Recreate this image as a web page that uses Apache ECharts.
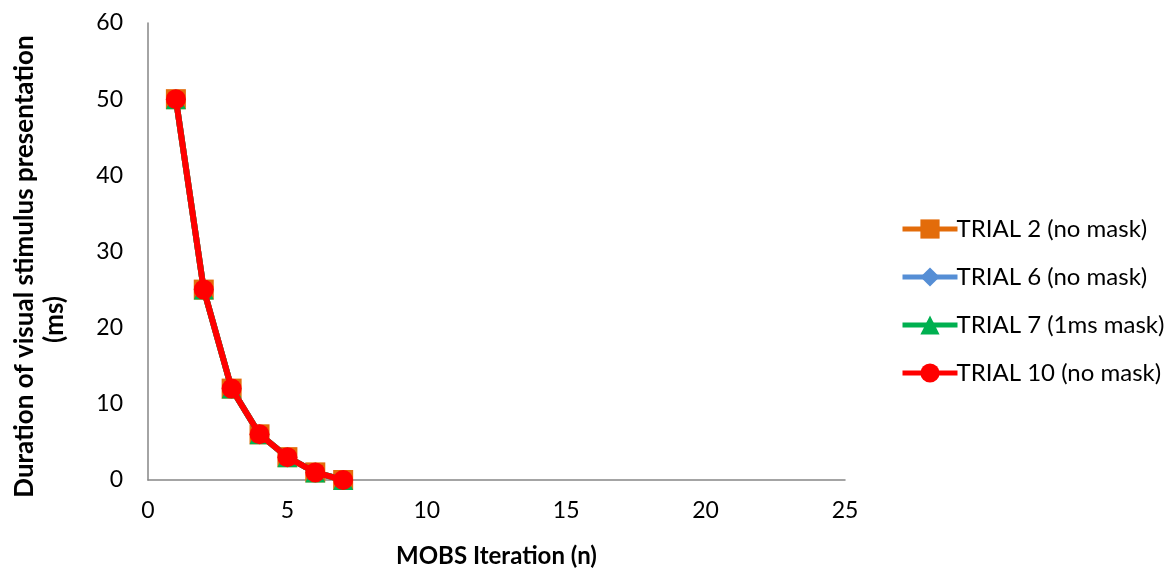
<!DOCTYPE html>
<html><head><meta charset="utf-8">
<script src="https://cdn.jsdelivr.net/npm/echarts@6/dist/echarts.min.js"></script>
<style>html,body{margin:0;padding:0;background:#fff}#c{width:1175px;height:570px}</style>
</head><body><div id="c"></div>
<script>
const iterations = [1, 2, 3, 4, 5, 6, 7];
const trial2 = [50, 25, 12, 6, 3, 1, 0];
const trial6 = [50, 25, 12, 6, 3, 1, 0];
const trial7 = [50, 25, 12, 6, 3, 1, 0];
const trial10 = [50, 25, 12, 6, 3, 1, 0];
const seriesNames = ['TRIAL 2 (no mask)', 'TRIAL 6 (no mask)', 'TRIAL 7 (1ms mask)', 'TRIAL 10 (no mask)'];
const seriesColors = ['#E36C0A', '#558ED5', '#00B050', '#FF0000'];
const seriesSymbols = ['rect', 'diamond', 'triangle', 'circle'];
const seriesData = [trial2, trial6, trial7, trial10];

const FONT = 'Lato, "Open Sans", sans-serif';
const chart = echarts.init(document.getElementById('c'));
chart.setOption({
  animation: false,
  textStyle: { fontFamily: FONT },
  grid: { left: 148, right: 330, top: 23, bottom: 90, outerBoundsMode: 'none', containLabel: false },
  legend: {
    orient: 'vertical', left: 895, top: 212,
    itemWidth: 55, itemHeight: 24, itemGap: 24,
    lineStyle: { width: 5 },
    textStyle: { fontSize: 24, color: '#000', fontFamily: FONT, padding: [0, 0, 0, -6] },
    data: seriesNames
  },
  xAxis: {
    type: 'value', min: 0, max: 25, interval: 5,
    name: 'MOBS Iteration (n)', nameLocation: 'middle', nameGap: 64,
    nameTextStyle: { fontSize: 24, fontWeight: 'bold', color: '#000', fontFamily: FONT },
    axisLine: { show: true, lineStyle: { color: '#868686', width: 1.5 } },
    axisTick: { show: false },
    splitLine: { show: false },
    axisLabel: { fontSize: 23, color: '#000', margin: 19, fontFamily: FONT }
  },
  yAxis: {
    type: 'value', min: 0, max: 60, interval: 10,
    name: '{a|Duration of visual stimulus presentation}\n{b|(ms)}', nameLocation: 'middle', nameGap: 78,
    nameTextStyle: {
      fontSize: 26, fontWeight: 'bold', color: '#000', fontFamily: FONT, lineHeight: 30,
      padding: [0, 30, 0, 0],
      rich: {
        a: { fontSize: 26, fontWeight: 'bold', color: '#000', fontFamily: FONT, lineHeight: 30 },
        b: { fontSize: 26, fontWeight: 'bold', color: '#000', fontFamily: FONT, lineHeight: 30, padding: [0, 106, 0, 0] }
      }
    },
    axisLine: { show: true, lineStyle: { color: '#868686', width: 1.5 } },
    axisTick: { show: false },
    splitLine: { show: false },
    axisLabel: { fontSize: 23, color: '#000', margin: 25, fontFamily: FONT }
  },
  series: seriesNames.map((n, i) => ({
    name: n, type: 'line',
    data: iterations.map((x, j) => [x, seriesData[i][j]]),
    symbol: seriesSymbols[i], symbolSize: 20,
    itemStyle: { color: seriesColors[i] },
    lineStyle: { color: seriesColors[i], width: 6 },
    z: 2 + i
  }))
});
</script></body></html>
